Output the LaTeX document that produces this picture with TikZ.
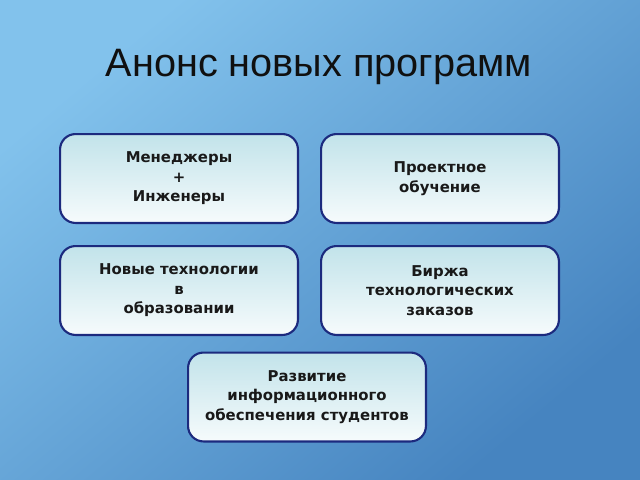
\documentclass[tikz,border=0pt]{standalone}
\usepackage{fontspec}
\setmainfont{Liberation Sans}
\newfontfamily\boxfont{DejaVu Sans}
\definecolor{bgtl}{HTML}{82C2EC}
\definecolor{bgbr}{HTML}{4684C0}
\definecolor{boxtop}{HTML}{C2E3EA}
\definecolor{boxbot}{HTML}{F6FBFC}
\definecolor{boxline}{HTML}{1C2A7E}
\definecolor{titlecol}{HTML}{101010}
\tikzset{
  prog/.style={draw=boxline, line width=1.5pt, rounded corners=11pt,
    top color=boxtop, bottom color=boxbot, minimum width=240*0.025cm-1.5pt,
    minimum height=91*0.025cm-1.5pt, align=center, inner sep=0pt,
    font=\boxfont\bfseries\fontsize{10.6pt}{13.9pt}\selectfont, text=black!90},
}
\begin{document}
\begin{tikzpicture}[x=0.025cm,y=-0.025cm]
\useasboundingbox (0,0) rectangle (640,480);
\shade[top color=bgtl, bottom color=bgbr, shading angle=40] (0,0) rectangle (640,480);
\node[font=\fontsize{28.2pt}{32pt}\selectfont, text=titlecol, anchor=base] (title) at (319,76) {Анонс новых программ};
\node[prog] (a) at (179,178.5) {Менеджеры\\+\\Инженеры};
\node[prog] (b) at (440,178.5) {Проектное\\обучение};
\node[prog] (c) at (179,290.5) {Новые технологии\\в\\образовании};
\node[prog] (d) at (440,290.5) {Биржа\\технологических\\заказов};
\node[prog] (e) at (307,397) {Развитие\\информационного\\обеспечения студентов};
\end{tikzpicture}
\end{document}
